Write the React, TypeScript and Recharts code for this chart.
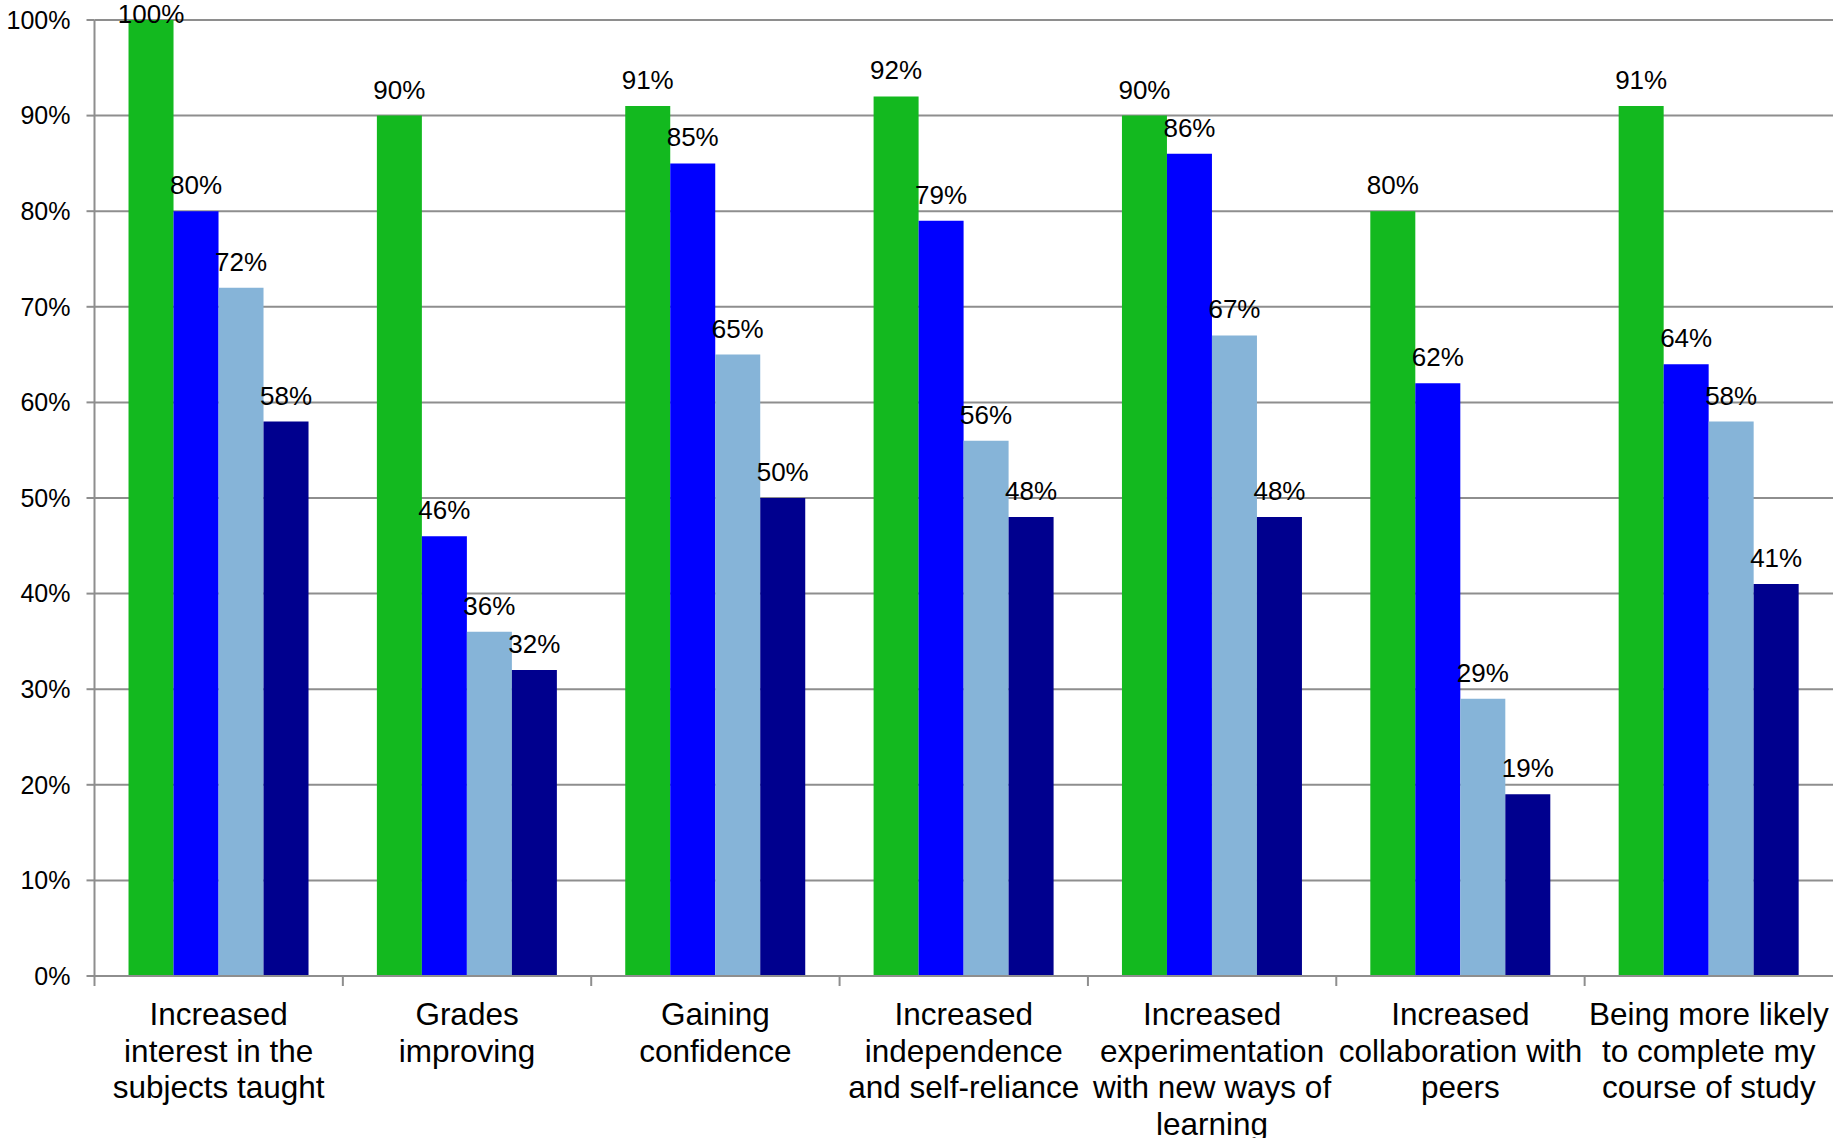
import { BarChart, Bar, XAxis, YAxis, CartesianGrid, LabelList } from 'recharts';

const categories = [
  'Increased interest in the subjects taught',
  'Grades improving',
  'Gaining confidence',
  'Increased independence and self-reliance',
  'Increased experimentation with new ways of learning',
  'Increased collaboration with peers',
  'Being more likely to complete my course of study',
];

// how Excel broke each category label
const categoryLines = [
  ['Increased', 'interest in the', 'subjects taught'],
  ['Grades', 'improving'],
  ['Gaining', 'confidence'],
  ['Increased', 'independence', 'and self-reliance'],
  ['Increased', 'experimentation', 'with new ways of', 'learning'],
  ['Increased', 'collaboration with', 'peers'],
  ['Being more likely', 'to complete my', 'course of study'],
];

const series1 = [100, 90, 91, 92, 90, 80, 91];
const series2 = [80, 46, 85, 79, 86, 62, 64];
const series3 = [72, 36, 65, 56, 67, 29, 58];
const series4 = [58, 32, 50, 48, 48, 19, 41];

const yTicks = [0, 10, 20, 30, 40, 50, 60, 70, 80, 90, 100];

const data = categories.map((name, i) => ({
  name,
  s1: series1[i],
  s2: series2[i],
  s3: series3[i],
  s4: series4[i],
}));

const W = 1833;
const H = 1138;
const Y_AXIS_W = 94.5;
const X_AXIS_H = 162;
const BAND = (W - Y_AXIS_W) / categories.length;
const FONT = '"Liberation Sans", Arial, Helvetica, sans-serif';
const GRID = '#8e8e8e';

function CategoryTick(props: any) {
  const { x, y, index } = props;
  const lines = categoryLines[index] || [];
  return (
    <g>
      <line x1={x - BAND / 2} x2={x - BAND / 2} y1={y} y2={y + 10} stroke={GRID} strokeWidth={2} />
      <text x={x} y={y} textAnchor="middle" fontSize={31.5} fontFamily={FONT} fill="#000">
        {lines.map((l, i) => (
          <tspan key={i} x={x} y={y + 49 + i * 36.7}>
            {l}
          </tspan>
        ))}
      </text>
    </g>
  );
}

function TopLabel(props: any) {
  const { x, y, width, value } = props;
  return (
    <text
      x={x + width / 2}
      y={Math.max(y - 17, 23)}
      textAnchor="middle"
      fontSize={26}
      fontFamily={FONT}
      fill="#000"
    >
      {`${value}%`}
    </text>
  );
}

export default function App() {
  return (
    <div style={{ position: 'absolute', left: 0, top: 0, width: W, height: H, background: '#fff' }}>
      <BarChart
        width={W}
        height={H}
        data={data}
        margin={{ top: 20, right: 0, bottom: 0, left: 0 }}
        barCategoryGap="13.7%"
        barGap={0}
      >
        <CartesianGrid vertical={false} stroke={GRID} strokeWidth={2} />
        <XAxis
          dataKey="name"
          height={X_AXIS_H}
          interval={0}
          tickLine={false}
          tickSize={0}
          tickMargin={0}
          axisLine={{ stroke: GRID, strokeWidth: 2 }}
          tick={<CategoryTick />}
        />
        <YAxis
          width={Y_AXIS_W}
          domain={[0, 100]}
          ticks={yTicks}
          tickFormatter={(v) => `${v}%`}
          tickSize={8}
          tickMargin={16}
          tickLine={{ stroke: GRID, strokeWidth: 2 }}
          axisLine={{ stroke: GRID, strokeWidth: 2 }}
          tick={{ fill: '#000', fontSize: 25, fontFamily: FONT }}
        />
        <Bar dataKey="s1" name="Series 1" fill="#13b91f" isAnimationActive={false}>
          <LabelList dataKey="s1" content={<TopLabel />} />
        </Bar>
        <Bar dataKey="s2" name="Series 2" fill="#0000ff" isAnimationActive={false}>
          <LabelList dataKey="s2" content={<TopLabel />} />
        </Bar>
        <Bar dataKey="s3" name="Series 3" fill="#86b4d8" isAnimationActive={false}>
          <LabelList dataKey="s3" content={<TopLabel />} />
        </Bar>
        <Bar dataKey="s4" name="Series 4" fill="#00008e" isAnimationActive={false}>
          <LabelList dataKey="s4" content={<TopLabel />} />
        </Bar>
      </BarChart>
    </div>
  );
}
